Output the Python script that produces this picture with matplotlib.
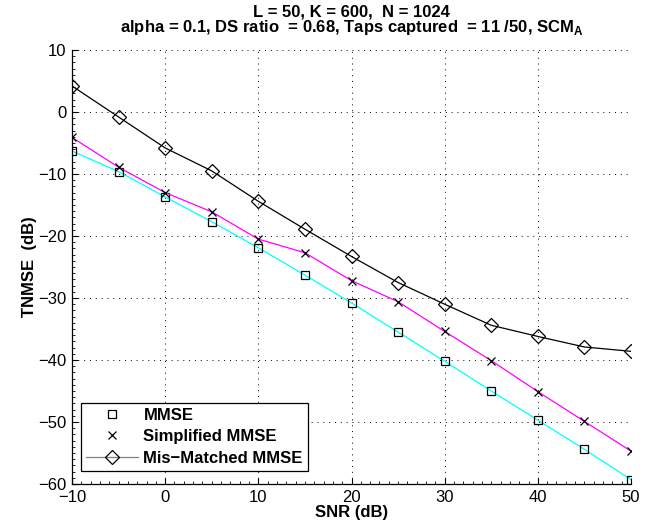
import matplotlib
matplotlib.use("Agg")
import matplotlib.pyplot as plt
from matplotlib.lines import Line2D
from matplotlib.ticker import MultipleLocator

snr = [-10, -5, 0, 5, 10, 15, 20, 25, 30, 35, 40, 45, 50]
mmse = [-6.3, -9.6, -13.7, -17.7, -21.9, -26.3, -30.8, -35.5, -40.2, -45.0, -49.7, -54.4, -59.3]
simplified = [-4.1, -8.9, -13.0, -16.1, -20.5, -22.7, -27.2, -30.6, -35.4, -40.1, -45.1, -49.9, -54.7]
mismatched = [4.2, -0.8, -5.8, -9.5, -14.4, -18.9, -23.3, -27.5, -31.0, -34.4, -36.2, -37.9, -38.6]
xticks = [-10, 0, 10, 20, 30, 40, 50]
yticks = [-60, -50, -40, -30, -20, -10, 0, 10]

plt.rcParams['font.family'] = ['Liberation Sans', 'DejaVu Sans']
plt.rcParams['mathtext.fontset'] = 'custom'
plt.rcParams['mathtext.rm'] = 'Liberation Sans:bold'
plt.rcParams['mathtext.bf'] = 'Liberation Sans:bold'

FS = 12

fig = plt.figure(figsize=(6.51, 5.29), dpi=100)
ax = fig.add_axes([72/651, 1-484/529, (631-72)/651, (484-50)/529])

ax.plot(snr, mmse, color='cyan', lw=0.9, marker='s', ms=6, mfc='none', mec='black', mew=0.9)
ax.plot(snr, simplified, color='magenta', lw=0.9, marker='x', ms=6, mec='black', mew=0.9)
ax.plot(snr, mismatched, color='black', lw=0.9, marker='D', ms=7, mfc='none', mec='black', mew=0.9)

ax.set_xlim(-10, 50)
ax.set_ylim(-60, 10)
ax.set_xticks(xticks)
ax.set_yticks(yticks)
ax.xaxis.set_minor_locator(MultipleLocator(1))
ax.yaxis.set_minor_locator(MultipleLocator(1))
ax.tick_params(which='both', direction='in', top=False, right=False, labelsize=FS)
ax.tick_params(axis='x', which='major', pad=4)
ax.tick_params(axis='y', which='major', pad=4)
ax.tick_params(which='major', length=4, width=0.8)
ax.tick_params(which='minor', length=2, width=0.6)
ax.grid(True, which='major', linestyle=(0, (1, 5)), color='black', lw=0.7)
ax.spines['top'].set_visible(False)
ax.spines['right'].set_visible(False)
for s in ax.spines.values():
    s.set_linewidth(0.9)

ax.set_xlabel('SNR (dB)', fontweight='bold', fontsize=FS, labelpad=0.5)
ax.set_ylabel('TNMSE  (dB)', fontweight='bold', fontsize=FS, labelpad=1)
ax.set_title('L = 50, K = 600,  N = 1024\nalpha = 0.1, DS ratio  = 0.68, Taps captured  = 11 /50, SCM$_\\mathbf{A}$',
             fontweight='bold', fontsize=FS, pad=13, linespacing=0.92)

handles = [
    Line2D([], [], ls='none', marker='s', ms=6, mfc='none', mec='black', mew=0.9),
    Line2D([], [], ls='none', marker='x', ms=6, mec='black', mew=0.9),
    Line2D([], [], color='gray', lw=0.9, marker='D', ms=7, mfc='none', mec='black', mew=0.9),
]
leg = ax.legend(handles, ['MMSE', 'Simplified MMSE', 'Mis\u2212Matched MMSE'], loc='lower left',
                bbox_to_anchor=(0.016, 0.03), prop={'weight': 'bold', 'size': FS},
                fancybox=False, edgecolor='black', framealpha=1, borderpad=0.3,
                labelspacing=0.4, handlelength=3.1, handletextpad=0.35, borderaxespad=0)
leg.get_frame().set_linewidth(0.9)

fig.savefig('out.png', dpi=100)
